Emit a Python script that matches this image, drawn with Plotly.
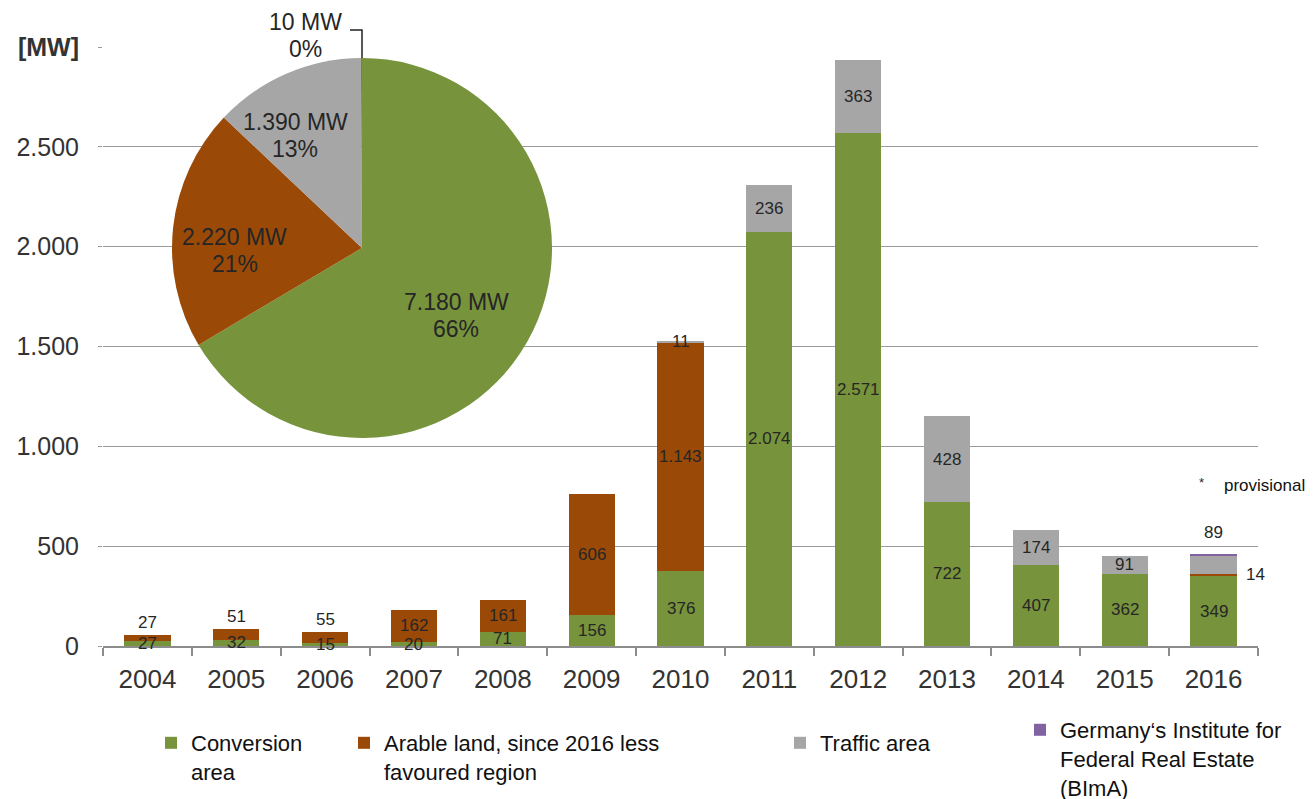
import math
import plotly.graph_objects as go

# ---------------- data ----------------
years = ["2004", "2005", "2006", "2007", "2008", "2009", "2010",
         "2011", "2012", "2013", "2014", "2015", "2016"]
conversion = [27, 32, 15, 20, 71, 156, 376, 2074, 2571, 722, 407, 362, 349]
arable = [27, 51, 55, 162, 161, 606, 1143, 0, 0, 0, 0, 0, 14]
traffic = [0, 0, 0, 0, 0, 0, 11, 236, 363, 428, 174, 91, 89]
bima = [0, 0, 0, 0, 0, 0, 0, 0, 0, 0, 0, 0, 10]

pie_names = ["Conversion area", "Arable land", "Traffic area", "BImA"]
pie_values = [7180, 2220, 1390, 10]

legend_names = ["Conversion<br>area",
                "Arable land, since 2016 less<br>favoured region",
                "Traffic area",
                "Germany\u2018s Institute for<br>Federal Real Estate<br>(BImA)"]
y_tickvals = [0, 500, 1000, 1500, 2000, 2500, 3000]
y_ticktext = ["0", "500", "1.000", "1.500", "2.000", "2.500", "<b>[MW]</b>"]

# ---------------- style ----------------
GREEN = "#77933C"
BROWN = "#9A4A06"
GREY = "#A6A6A6"
PURPLE = "#8064A2"
PIE_SMALL = "#B5672A"
FONT = "Liberation Sans, Arial, sans-serif"
TXT = "#262626"

OFF = 8                      # page body margin of the html page
W, H = 1314 - OFF, 799 - OFF
ML, MT = 103 - OFF, 47 - OFF
MR = W - (1258 - OFF)
MB = H - (646 - OFF)
PW, PH = W - ML - MR, H - MT - MB


def px2paper(px, py):
    """screen pixel (page coords) -> paper coords"""
    fx, fy = px - OFF, py - OFF
    return (fx - ML) / PW, (H - MB - fy) / PH


def fmt(v):
    return f"{v:,}".replace(",", ".")


fig = go.Figure()

series = [(conversion, GREEN, "legend"), (arable, BROWN, "legend2"),
          (traffic, GREY, "legend3"), (bima, PURPLE, "legend4")]
for (vals, col, lg), name in zip(series, legend_names):
    fig.add_trace(go.Bar(x=years, y=vals, name=name, marker_color=col,
                         marker_line_width=0, legend=lg, hoverinfo="skip"))

# bar value labels (category axis -> annotation x is the category index)
annotations = []
stack = [conversion, arable, traffic, bima]
for i, yr in enumerate(years):
    total = sum(s[i] for s in stack)
    base = 0
    for k, s in enumerate(stack):
        v = s[i]
        if v <= 0:
            continue
        above = sum(stack[j][i] for j in range(k + 1, len(stack)))
        y, xs, ys = base + v / 2, 0, 0
        if k == 3:
            base += v
            continue
        if k == 1 and v < 60:
            if above == 0:
                y, ys = total, 13
            else:
                xs = 42
        if k == 2 and above > 0:
            y, ys = total, 21
        annotations.append(dict(x=i, y=y, xref="x", yref="y", text=fmt(v),
                                showarrow=False, xshift=xs, yshift=ys,
                                xanchor="center", yanchor="middle",
                                font=dict(size=17, color=TXT, family=FONT)))
        base += v

# pie (screen-space box 172..552 x 58..438)
pie_dom_x = [px2paper(172, 0)[0], px2paper(552, 0)[0]]
pie_dom_y = [px2paper(0, 438)[1], px2paper(0, 58)[1]]
fig.add_trace(go.Pie(labels=pie_names, values=pie_values, sort=False,
                     direction="clockwise", rotation=0,
                     marker=dict(colors=[GREEN, BROWN, GREY, PIE_SMALL],
                                 line=dict(width=0)),
                     textinfo="none", hoverinfo="skip", showlegend=False,
                     domain=dict(x=pie_dom_x, y=pie_dom_y)))

# pie labels computed from slice geometry (screen coords)
cx, cy, R = (172 + 552) / 2, (58 + 438) / 2, 190
tot = sum(pie_values)
cum = 0
rfac = [0.61, 0.67, 0.69]
dang = [6.0, -7.6, -7.2]   # label angle nudges, degrees
LS = 27  # line spacing of the two-line labels


def two_line(lx, ly, l1, l2):
    for t, dy in ((l1, -LS / 2), (l2, LS / 2)):
        xp, yp = px2paper(lx, ly + dy)
        annotations.append(dict(x=xp, y=yp, xref="paper", yref="paper",
                                text=t, showarrow=False,
                                xanchor="center", yanchor="middle",
                                font=dict(size=23, color=TXT, family=FONT)))


for j, v in enumerate(pie_values):
    frac_mid = (cum + v / 2) / tot
    cum += v
    pct = round(v / tot * 100)
    l1, l2 = f"{fmt(v)} MW", f"{pct}%"
    if j < 3:
        th = 2 * math.pi * frac_mid + math.radians(dang[j])
        lx = cx + rfac[j] * R * math.sin(th)
        ly = cy - rfac[j] * R * math.cos(th)
        two_line(lx, ly, l1, l2)
    else:
        top_y = cy - R
        x0, y0 = px2paper(cx, top_y)
        x1, y1 = px2paper(cx, top_y - 28)
        x2, _ = px2paper(cx - 12, top_y - 28)
        fig.add_shape(type="path", xref="paper", yref="paper",
                      path=f"M {x0} {y0} L {x1} {y1} L {x2} {y1}",
                      line=dict(color="#222222", width=1.5))
        two_line(cx - 57, top_y - 22, l1, l2)

# provisional note
xp, yp = px2paper(1201, 482)
annotations.append(dict(x=xp, y=yp, xref="paper", yref="paper", text="*",
                        showarrow=False, xanchor="center", yanchor="middle",
                        font=dict(size=13, color=TXT, family=FONT)))
xp, yp = px2paper(1222, 485)
annotations.append(dict(x=xp, y=yp, xref="paper", yref="paper", text="provisional",
                        xanchor="left", yanchor="middle", showarrow=False,
                        font=dict(size=17, color="#111111", family=FONT)))

legend_common = dict(orientation="v", bgcolor="rgba(0,0,0,0)", valign="top",
                     yanchor="top", xanchor="left",
                     font=dict(size=22, color="#111111", family=FONT))
leg_pos = [(151, 722), (344, 722), (780, 722), (1020, 709)]
legs = {}
for n, (lx, ly) in enumerate(leg_pos):
    xp, yp = px2paper(lx, ly)
    key = "legend" if n == 0 else f"legend{n + 1}"
    legs[key] = dict(legend_common, x=xp, y=yp)

fig.update_layout(
    width=W, height=H,
    margin=dict(l=ML, r=MR, t=MT, b=MB, autoexpand=False),
    barmode="stack", bargap=0.48,
    plot_bgcolor="white", paper_bgcolor="white",
    font=dict(family=FONT, color="#333333"),
    annotations=annotations,
    **legs,
)
fig.update_xaxes(type="category", range=[-0.5, len(years) - 0.5],
                 showline=True, linecolor="#8c8c8c", linewidth=1.5,
                 ticks="outside", tickson="boundaries", ticklen=8,
                 tickcolor="#8c8c8c", tickwidth=1.5, showgrid=False, tickangle=0,
                 ticklabelstandoff=9,
                 tickfont=dict(size=26, color="#333333", family=FONT))
fig.update_yaxes(range=[0, 3000], tickvals=y_tickvals, ticktext=y_ticktext,
                 showgrid=True, gridcolor="#9a9a9a", gridwidth=1.2,
                 zeroline=False, ticks="outside", ticklen=4, tickcolor="#9a9a9a",
                 ticklabelstandoff=14,
                 tickfont=dict(size=25, color="#333333", family=FONT))

fig.write_html("out.html")
